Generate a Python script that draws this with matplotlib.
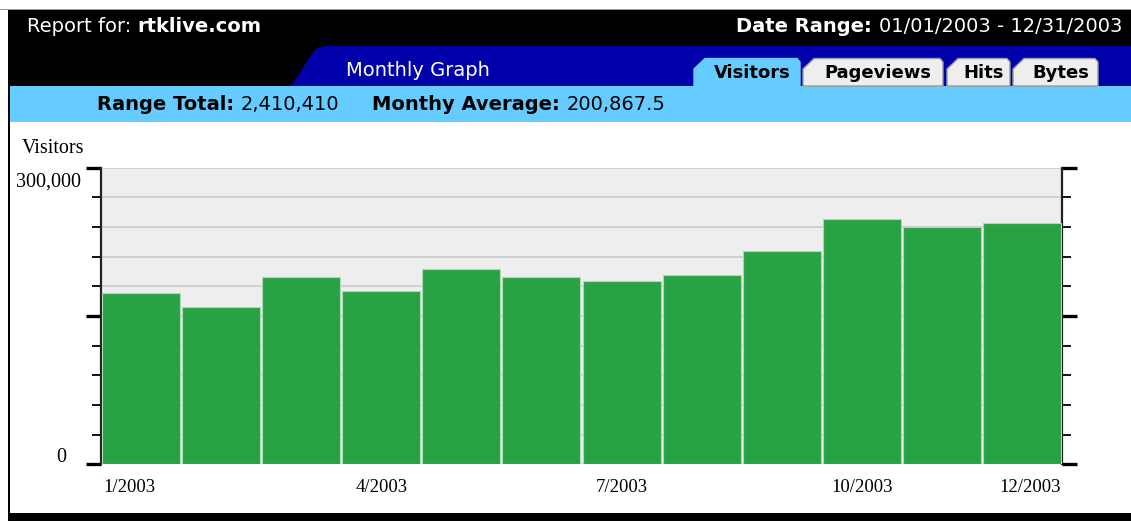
import matplotlib
matplotlib.use("Agg")
import matplotlib.pyplot as plt
from matplotlib.patches import Polygon, Rectangle
from matplotlib.ticker import MultipleLocator, FixedLocator

# ---- data ----
months = ["1/2003", "2/2003", "3/2003", "4/2003", "5/2003", "6/2003",
          "7/2003", "8/2003", "9/2003", "10/2003", "11/2003", "12/2003"]
visitors = [173500, 159000, 189700, 175000, 197400, 189700,
            185600, 191700, 215600, 248300, 240200, 244300]
xtick_labels = ["1/2003", "4/2003", "7/2003", "10/2003", "12/2003"]
xtick_index = [0, 3, 6, 9, 11]
ytick_labels = ["0", "300,000"]
ytick_values = [0, 300000]
tab_names = ["Visitors", "Pageviews", "Hits", "Bytes"]
report_site = "rtklive.com"
date_range = "01/01/2003 - 12/31/2003"
range_total = "2,410,410"
monthly_avg = "200,867.5"

W, H = 1131, 521
fig = plt.figure(figsize=(W / 100, H / 100), dpi=100)
fig.patch.set_facecolor("white")

# ---- header / frame (pixel coordinate overlay) ----
bg = fig.add_axes([0, 0, 1, 1], zorder=0)
bg.set_xlim(0, W)
bg.set_ylim(H, 0)
bg.axis("off")
renderer = fig.canvas.get_renderer()

SANS = ["DejaVu Sans"]
HS = 14


def seq_text(x, y, pieces, color, size=HS, align="left"):
    """Draw (text, bold) pieces one after another starting (or ending) at x."""
    texts = [bg.text(0, y, s, family=SANS, fontsize=size, color=color,
                     fontweight="bold" if b else "normal", ha="left", va="center")
             for s, b in pieces]
    widths = [t.get_window_extent(renderer).width for t in texts]
    start = x if align == "left" else x - sum(widths)
    for t, w in zip(texts, widths):
        t.set_x(start)
        start += w
    return start


# top thin grey line
bg.add_patch(Rectangle((0, 8.5), W, 1.5, color="#999999", lw=0))
# black header
bg.add_patch(Rectangle((8, 10), W - 8, 76, color="black", lw=0))
# left border
bg.add_patch(Rectangle((7.5, 10), 2.5, H - 10, color="black", lw=0))
# bottom bar
bg.add_patch(Rectangle((7.5, 513), W - 7.5, 8, color="black", lw=0))
# blue tab strip
bg.add_patch(Polygon([(291, 86), (313, 52), (318, 47.5), (326, 46), (W, 46), (W, 86)],
                     closed=True, color="#0000aa", lw=0))
# light-blue band
bg.add_patch(Rectangle((10, 86), W - 10, 36, color="#66ccff", lw=0))

# tabs
tab_bounds = [(694, 800), (803, 943), (947, 1010), (1013, 1098)]
for i, (name, (x0, x1)) in enumerate(zip(tab_names, tab_bounds)):
    fc = "#66ccff" if i == 0 else "#eeeeee"
    ec = "#66ccff" if i == 0 else "#999999"
    poly = Polygon([(x0, 86), (x0, 69), (x0 + 11, 58.5), (x1 - 3, 58.5), (x1, 62), (x1, 86)],
                   closed=True, facecolor=fc, edgecolor=ec, lw=1.0)
    bg.add_patch(poly)
    bg.text((x0 + x1) / 2 + 5, 73.5, name, family=SANS, fontsize=13, fontweight="bold",
            color="black", ha="center", va="center")

# header texts
seq_text(27, 27, [("Report for: ", False), (report_site, True)], "white")
seq_text(1122, 27, [("Date Range: ", True), (date_range, False)], "white", align="right")
bg.text(418, 70, "Monthly Graph", family=SANS, fontsize=HS, color="white",
        ha="center", va="center")
end = seq_text(97, 104, [("Range Total: ", True), (range_total, False)], "black")
seq_text(end + 33, 104, [("Monthy Average: ", True), (monthly_avg, False)], "black")

# ---- chart ----
left_px, right_px = 101, 1062
top_px, bot_px = 167.7, 464.3
ax = fig.add_axes([left_px / W, (H - bot_px) / H, (right_px - left_px) / W, (bot_px - top_px) / H],
                  zorder=1)
ax.set_facecolor("#eeeeee")
x = list(range(len(months)))
ax.bar(x, visitors, width=0.975, color="#29a245", edgecolor="#a9dcb2", linewidth=0.8, zorder=3)
ax.set_xlim(-0.5, len(months) - 0.5)
ax.set_ylim(0, 300000)

ax.yaxis.set_major_locator(FixedLocator([0, 150000, 300000]))
ax.yaxis.set_minor_locator(MultipleLocator(30000))
ax.grid(axis="y", which="both", color="#cbcbcb", linewidth=1.2, zorder=1)
ax.set_axisbelow(True)
ax.tick_params(axis="y", which="major", left=True, right=True, length=11, width=2.4,
               color="black", labelleft=False, labelright=False, direction="out")
ax.tick_params(axis="y", which="minor", left=True, right=True, length=6.5, width=1.3,
               color="black", direction="out")
ax.tick_params(axis="x", which="both", bottom=False, top=False, labelbottom=False)
for s in ["top", "bottom"]:
    ax.spines[s].set_visible(False)
for s in ["left", "right"]:
    ax.spines[s].set_linewidth(1.6)
    ax.spines[s].set_color("#222222")

SERIF = ["Liberation Serif", "DejaVu Serif"]
# y labels
y_offsets = {0: (-25, 1.7), 300000: (-14.5, -13.9)}
for lab, val in zip(ytick_labels, ytick_values):
    dx, dy = y_offsets[val]
    ax.annotate(lab, xy=(0, val), xycoords=("axes fraction", "data"), xytext=(dx, dy),
                textcoords="offset points", ha="right", va="baseline",
                family=SERIF, fontsize=14.5, color="black", annotation_clip=False)
# x labels
for lab, idx in zip(xtick_labels, xtick_index):
    if idx == 0:
        xpos, ha = idx - 0.47, "left"
    elif idx == len(months) - 1:
        xpos, ha = idx + 0.49, "right"
    else:
        xpos, ha = idx, "center"
    ax.annotate(lab, xy=(xpos, 0), xycoords=("data", "axes fraction"), xytext=(0, -20.3),
                textcoords="offset points", ha=ha, va="baseline",
                family=SERIF, fontsize=13.5, color="black", annotation_clip=False)

# axis title
ax.annotate("Visitors", xy=(0, 1), xycoords="axes fraction", xytext=(-56.9, 10.4),
            textcoords="offset points", ha="left", va="baseline",
            family=SERIF, fontsize=14.5, color="black", annotation_clip=False)

fig.savefig("out.png", dpi=100)
